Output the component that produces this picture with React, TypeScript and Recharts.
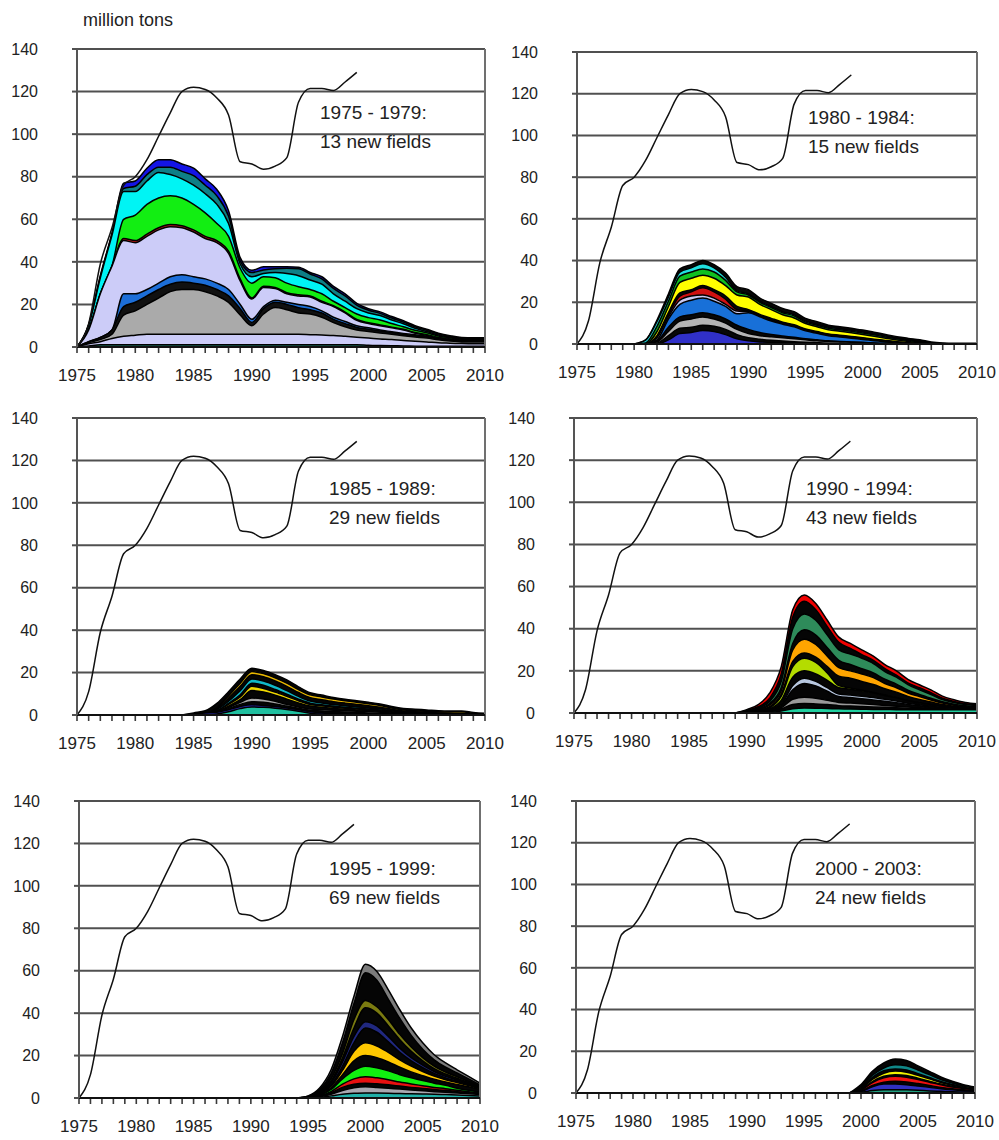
import React from "react";
import {
  ComposedChart, Area, Line, XAxis, YAxis, CartesianGrid, ReferenceLine,
} from "recharts";

const FONT = "'Liberation Sans', Arial, sans-serif";

const years = [
  1975, 1976, 1977, 1978, 1979, 1980, 1981, 1982, 1983, 1984, 1985, 1986,
  1987, 1988, 1989, 1990, 1991, 1992, 1993, 1994, 1995, 1996, 1997, 1998,
  1999, 2000, 2001, 2002, 2003, 2004, 2005, 2006, 2007, 2008, 2009, 2010,
];
const xTicks = [1975, 1980, 1985, 1990, 1995, 2000, 2005, 2010];
const yTicks = [0, 20, 40, 60, 80, 100, 120, 140];

// total production 1975-1999
const totalProduction = [
  0, 11, 39, 56, 76, 80, 88, 99, 110, 120, 122, 121, 117, 109, 87, 86, 83.5,
  85, 89, 115, 121.5, 121.5, 120.5, 124.5, 129,
];

type Layer = { key: string; color: string; start: number; values: number[] };

// 1975 - 1979 fields (cumulative envelopes, outer to inner)
const p1Navy = [0, 10.5, 33.5, 53.5, 77, 78, 84, 88, 88, 86, 84, 79, 74, 64, 42, 36, 37.7, 37.7, 37.7, 37.5, 35, 33, 28.5, 25, 20.5, 18, 16.5, 14.3, 12.3, 10, 8.3, 6.5, 5.3, 4.5, 4.4, 4.4];
const p1Teal = [0, 10.2, 33, 53, 74.5, 75.5, 81, 84.5, 84.5, 82.5, 80.5, 76, 71, 61.5, 40.5, 35, 36.2, 36.8, 37, 36.8, 34.3, 32, 27.5, 24, 19.7, 17.3, 15.8, 13.6, 11.7, 9.5, 7.9, 6.1, 5, 4.2, 4.1, 4.1];
const p1Cyan = [0, 10, 32.5, 52.5, 73, 73, 78, 82, 81, 79, 76, 72, 67, 58, 39, 33, 34.5, 35, 34.5, 33.5, 31.5, 29.5, 25, 21.5, 18, 16, 14.8, 12.7, 10.9, 8.8, 7.3, 5.6, 4.6, 3.9, 3.8, 3.8];
const p1Green = [0, 8, 25, 38, 60, 62, 67, 70, 71, 70, 67, 63, 58, 52, 37, 30, 33, 32.5, 30, 28.3, 27, 25, 21.5, 18.5, 15.5, 13.8, 12.7, 11, 9.5, 7.9, 6.7, 5.2, 4.3, 3.6, 3.5, 3.5];
const p1Red = [0, 8, 25, 38, 51, 50, 53, 56, 57.5, 57, 55, 52, 50, 45, 32, 23, 28.5, 28, 25.5, 24.5, 24, 21.5, 19.4, 16.4, 12.9, 11.4, 10.4, 9.3, 8.3, 6.8, 5.8, 4.5, 3.8, 3.2, 3.1, 3.1];
const p1Lavender = [0, 8, 25, 38, 50, 49, 52, 55, 56.5, 56, 54, 51, 49, 44, 31, 22.5, 28, 27.5, 25, 24, 23.5, 21, 19, 16, 12.5, 11, 10, 9, 8, 6.5, 5.5, 4.3, 3.6, 3, 2.9, 2.9];
const p1Blue = [0, 2.5, 4.5, 8, 25, 25, 27, 30, 33, 34, 33, 32, 30, 27, 20, 13, 19, 22, 21, 20, 19, 17, 14, 12, 10, 9, 8, 7.2, 6.4, 5.7, 5, 4, 3.3, 2.8, 2.7, 2.7];
const p1Black = [0, 2.5, 4.5, 8, 19, 21, 24, 27, 29.5, 30.5, 30, 29, 27, 24, 18, 11.5, 18, 21, 20, 18.5, 17.5, 16, 13, 11, 9.2, 8.3, 7.5, 6.8, 6, 5.3, 4.8, 3.8, 3.1, 2.7, 2.6, 2.6];
const p1Gray = [0, 2, 3.5, 6, 15, 17, 20, 23, 26, 27, 27, 26, 24, 21, 15, 10, 15.5, 18.5, 17.5, 16, 15.5, 14, 11.5, 9.5, 8, 7.3, 6.6, 6, 5.3, 4.7, 4.2, 3.4, 2.8, 2.4, 2.3, 2.3];
const p1LowLavender = [0, 1.5, 2.5, 4, 5, 5.5, 6, 6, 6, 6, 6, 6, 6, 6, 6, 6, 6, 6, 6, 6, 5.8, 5.6, 5.4, 5, 4.6, 4.2, 3.8, 3.5, 3, 2.7, 2.4, 2, 1.8, 1.6, 1.5, 1.5];
const p1Base = [0, 0.5, 1, 1, 1, 1, 1, 1, 1, 1, 1, 1, 1, 1, 1, 1, 1, 1, 1, 1, 1, 1, 1, 1, 1, 0.8, 0.7, 0.6, 0.5, 0.4, 0.3, 0.3, 0.3, 0.3, 0.3, 0.3];

// 1980 - 1984 fields
const p2Black = [0, 2, 11.5, 24, 36, 38, 40, 38, 34, 27.5, 26, 22, 19.5, 17, 15.5, 12.3, 10.7, 9, 8.3, 7.5, 6.7, 5.6, 4.6, 3.5, 2.7, 2, 1, 0.5, 0.3, 0.3, 0.3];
const p2Cyan = [0, 1.8, 10.8, 22.5, 34.5, 36.5, 38.5, 36.5, 32, 25.5, 24, 20.5, 18, 15.5, 14, 11, 9.5, 8, 7.3, 6.6, 5.8, 4.8, 3.8, 2.8, 2, 1.3, 0.5, 0.2, 0];
const p2Green = [0, 0.5, 8.5, 20.5, 32.5, 34.5, 36, 34.5, 30.5, 25, 23.5, 20, 17.5, 15, 13.5, 10.5, 9, 7.5, 6.8, 6.1, 5.3, 4.4, 3.4, 2.5, 1.7, 1, 0.3, 0];
const p2Yellow = [0, 0, 6, 18, 29.5, 31.5, 33, 31.5, 28, 23.5, 22.5, 19, 16.5, 14, 12.5, 9.8, 8.3, 6.8, 6.1, 5.4, 4.6, 3.7, 2.8, 1.9, 1.2, 0.6, 0.2, 0];
const p2BlackMid = [0, 0, 4, 15, 24.5, 26, 28, 26, 23, 18, 16.5, 14.2, 12.3, 10.5, 9.2, 7.2, 6, 4.8, 4.2, 3.6, 3, 2.3, 1.7, 1.1, 0.6, 0.2, 0];
const p2Red = [0, 0, 3.5, 14, 23, 25, 27, 25, 21.5, 16.5, 15.8, 13.6, 11.7, 10, 8.7, 6.8, 5.6, 4.5, 3.9, 3.3, 2.7, 2, 1.4, 0.9, 0.4, 0];
const p2Lavender = [0, 0, 3, 13, 21, 23, 23.5, 22, 19, 15.8, 15.5, 13.3, 11.4, 9.8, 8.5, 6.6, 5.4, 4.3, 3.7, 3.1, 2.5, 1.9, 1.3, 0.8, 0.3, 0];
const p2Blue = [0, 0, 2, 12, 19, 21, 22, 20.5, 18, 14.5, 15, 13, 11, 9.5, 8.2, 6.3, 5.1, 4, 3.4, 2.8, 2.2, 1.6, 1, 0.5, 0.2, 0];
const p2BlackLow = [0, 0, 1.5, 8, 13, 14, 15, 14, 12, 9, 7, 5.5, 4.5, 3.8, 3.2, 2.5, 2, 1.5, 1.2, 1, 0.8, 0.5, 0.3, 0];
const p2Gray = [0, 0, 1, 6, 11, 12, 13, 12, 10, 7, 5, 4, 3.5, 3, 2.5, 2, 1.5, 1.2, 1, 0.8, 0.6, 0.4, 0.2, 0];
const p2BlackBase = [0, 0, 0.5, 4, 7.5, 8, 9, 8.5, 7, 4.5, 3, 2.3, 1.8, 1.4, 1.1, 0.8, 0.6, 0.4, 0.3, 0.2, 0.1, 0];
const p2Purple = [0, 0, 0, 2, 5, 5.5, 6.5, 6, 4.5, 2.5, 1.5, 1, 0.8, 0.6, 0.4, 0.3, 0.2, 0];

// 1985 - 1989 fields
const p3Black = [0, 1, 2, 5.5, 11, 17, 22, 21, 19, 16.5, 13.3, 10.5, 9.4, 8.3, 7.4, 6.7, 6, 5.2, 4, 3.1, 2.7, 2.4, 2, 1.9, 1.9, 1.2, 0.8];
const p3Gold = [0, 0, 0.5, 3.5, 9, 15, 20.5, 19.5, 17.5, 15, 12, 9.5, 8.5, 7.5, 6.7, 6, 5.3, 4.5, 3.3, 2.4, 2, 1.7, 1.4, 1.5, 1.5, 0.8, 0.3];
const p3BlackA = [0, 0, 0.3, 3, 8, 13.5, 19, 18, 16, 13.5, 10.6, 8.2, 7.2, 6.3, 5.6, 5, 4.4, 3.7, 2.7, 1.9, 1.6, 1.3, 1, 0.9, 0.8, 0.5, 0.2];
const p3Cyan = [0, 0, 0.2, 2.5, 6.5, 11.5, 17, 16, 14, 11.5, 8.8, 6.6, 5.7, 4.9, 4.3, 3.8, 3.3, 2.8, 2, 1.4, 1.1, 0.9, 0.7, 0.6, 0.5, 0.3, 0];
const p3BlackB = [0, 0, 0.1, 2, 5.5, 9.5, 15, 14, 12, 9.8, 7.5, 5.6, 4.8, 4.2, 3.6, 3.2, 2.8, 2.3, 1.7, 1.2, 0.9, 0.7, 0.5, 0.4, 0.3, 0.2, 0];
const p3Yellow = [0, 0, 0, 1.8, 5, 8.5, 13.5, 12.5, 10.8, 8.8, 6.7, 5, 4.3, 3.7, 3.2, 2.8, 2.4, 2, 1.5, 1, 0.8, 0.6, 0.4, 0.3, 0.2, 0.1, 0];
const p3BlackC = [0, 0, 0, 1.5, 4.2, 7.2, 11.5, 10.8, 9.3, 7.5, 5.7, 4.2, 3.6, 3.1, 2.7, 2.4, 2.1, 1.7, 1.3, 0.9, 0.7, 0.5, 0.3, 0.2, 0.1, 0];
const p3Gray = [0, 0, 0, 1, 3.5, 6, 8, 7.5, 6.5, 5, 3.8, 2.8, 2.5, 2.2, 2, 1.8, 1.6, 1.3, 1, 0.7, 0.5, 0.4, 0.3, 0.2, 0.2, 0.1, 0];
const p3BlackD = [0, 0, 0, 1, 3, 5, 6.3, 6, 5.2, 4.2, 3.2, 2.2, 1.9, 1.6, 1.4, 1.2, 1, 0.8, 0.6, 0.4, 0.3, 0.2, 0.1, 0];
const p3Navy = [0, 0.5, 1, 1.3, 2.5, 4, 4.8, 4.5, 4, 3.3, 2.5, 1.5, 1, 0.8, 0.6, 0.5, 0.4, 0.3, 0.2, 0.1, 0];
const p3Teal = [0, 0, 0, 0.5, 1.5, 3, 3.8, 3.6, 3.2, 2.6, 1.8, 0.8, 0.4, 0.2, 0];

// 1990 - 1994 fields
const p4Red = [0, 1.6, 4, 9.5, 22, 49, 56, 52, 44, 36, 33, 30, 27, 23, 20, 16, 13.4, 11, 8, 6.3, 5, 4.4];
const p4BlackA = [0, 1.2, 3, 7, 18.5, 45.5, 53, 49, 41, 33.5, 30.7, 27.7, 25, 21, 18, 14.3, 12, 9.6, 7, 5.5, 4.4, 3.9];
const p4SeaGreen = [0, 0.8, 2.4, 5.5, 15, 40, 47, 44, 37, 30, 28, 26, 23.5, 19.7, 17, 13.5, 11, 8.8, 6.4, 5, 4, 3.5];
const p4BlackB = [0, 0.6, 2, 4.5, 12, 33, 39.5, 37, 31, 25, 23, 21, 19, 16, 13.7, 10.8, 8.8, 7, 5.3, 4.2, 3.4, 3];
const p4Orange = [0, 0.4, 1.5, 3.8, 10.5, 30, 35, 32.5, 27, 21.5, 20, 18.5, 16.8, 14, 12, 9.5, 7.8, 6.2, 4.7, 3.7, 3, 2.7];
const p4BlackC = [0, 0.3, 1.2, 3, 9, 24.5, 28.5, 26.5, 22, 17.5, 16.5, 15, 13.5, 11.5, 9.9, 7.9, 6.4, 5.2, 4, 3.2, 2.6, 2.3];
const p4YellowGreen = [0, 0.2, 1, 2.5, 8, 22, 26, 24, 19, 13, 11.8, 10.8, 9.7, 8.5, 7.3, 5.9, 4.9, 4, 3.2, 2.6, 2.2, 1.9];
const p4BlackD = [0, 0.1, 0.8, 2, 6, 17, 20, 18.5, 15.5, 12, 11.3, 10.5, 9.5, 8.3, 7.2, 5.8, 4.8, 3.9, 3.2, 2.6, 2.2, 1.9];
const p4Steel = [0, 0, 0.5, 1.5, 4, 13, 16.5, 15, 12, 9, 8.5, 8, 7.3, 6.5, 5.7, 4.6, 3.9, 3.2, 2.7, 2.3, 2, 1.8];
const p4BlackE = [0, 0, 0.4, 1.2, 3.5, 11, 14, 12.8, 10.3, 7.8, 7.3, 6.8, 6.2, 5.6, 4.9, 4, 3.4, 2.9, 2.5, 2.2, 1.9, 1.7];
const p4Gray = [0, 0, 0.3, 1, 2.5, 6.5, 7.5, 7, 6, 5, 4.7, 4.4, 4, 3.6, 3.2, 2.8, 2.5, 2.2, 2, 1.9, 1.8, 1.7];
const p4BlackF = [0, 0, 0.2, 0.7, 2, 4, 4.5, 4.3, 4, 3.5, 3.3, 3.1, 2.9, 2.7, 2.5, 2.3, 2.1, 2, 1.9, 1.8, 1.8, 1.7];
const p4Turquoise = [0, 0, 0, 0.3, 1, 2, 2.4, 2.3, 2.1, 2, 1.9, 1.8, 1.7, 1.7, 1.6, 1.6, 1.5, 1.5, 1.5, 1.5, 1.5, 1.5];

// 1995 - 1999 fields
const p5Gray = [0, 1, 4.7, 13.3, 29, 48, 63, 59.6, 51, 41.6, 33, 26, 20.4, 16.5, 13.3, 10.2, 7];
const p5BlackA = [0, 0.8, 4, 11.5, 26, 44.5, 59, 55.5, 46.5, 37.5, 29.5, 23, 18, 14.5, 11.8, 9, 6.2];
const p5Olive = [0, 0.5, 3, 9, 21, 37, 46, 43, 37, 30, 24, 19, 15, 12.2, 10, 7.8, 5.5];
const p5BlackB = [0, 0.4, 2.6, 8, 19, 33, 42.5, 40, 34, 27.5, 22, 17.5, 13.8, 11.3, 9.3, 7.3, 5.2];
const p5Navy = [0, 0.3, 2.2, 7, 17, 29, 36, 34, 29, 23.5, 19, 15.5, 12.5, 10.2, 8.5, 6.8, 4.9];
const p5BlackC = [0, 0.3, 2, 6.2, 15, 26, 33, 31, 26.5, 21.5, 17.5, 14.3, 11.6, 9.5, 8, 6.4, 4.6];
const p5Gold = [0, 0.2, 1.7, 5.5, 13, 22, 26, 24.5, 21.5, 18, 15, 12.5, 10.3, 8.6, 7.3, 5.9, 4.3];
const p5BlackD = [0, 0.15, 1.4, 4.8, 11, 17.5, 20, 19, 17, 14.5, 12.3, 10.5, 8.8, 7.5, 6.4, 5.3, 3.9];
const p5Lime = [0, 0.1, 1.2, 4, 9, 13, 15, 14.2, 12.8, 11, 9.5, 8.2, 7, 6, 4.6, 3.6, 2.8];
const p5Red = [0, 0.1, 1, 3, 6.5, 9, 10, 9.5, 8.6, 7.5, 6.6, 5.8, 5, 4.4, 3.6, 3, 2.4];
const p5BlackE = [0, 0.05, 0.8, 2.5, 5, 6.5, 7, 6.7, 6.2, 5.6, 5, 4.5, 4, 3.6, 3, 2.5, 2];
const p5Silver = [0, 0, 0.6, 1.8, 3.5, 4.8, 5.3, 5, 4.6, 4.2, 3.8, 3.4, 3, 2.7, 2.3, 2, 1.7];
const p5Teal = [0, 0, 0.3, 1, 1.8, 2.2, 2.4, 2.3, 2.2, 2.1, 2, 1.9, 1.8, 1.6, 1.4, 1.2, 1];

// 2000 - 2003 fields
const p6Black = [0, 4, 10.4, 14.4, 16.3, 15.6, 13, 10.4, 7.7, 5.6, 4, 2.9];
const p6Teal = [0, 3, 8.5, 12, 13.5, 13, 11, 8.8, 6.5, 4.8, 3.3, 2.4];
const p6BlackA = [0, 2.5, 7.5, 10.7, 11.5, 11, 9.3, 7.4, 5.5, 4.1, 2.9, 2.1];
const p6Yellow = [0, 2, 6.5, 9.5, 10.5, 10, 8.5, 6.8, 5, 3.7, 2.7, 1.9];
const p6BlackB = [0, 1.6, 5.5, 8, 8.8, 8.4, 7.1, 5.7, 4.3, 3.2, 2.4, 1.7];
const p6Red = [0, 1.3, 5, 7.3, 8, 7.6, 6.5, 5.2, 3.9, 2.9, 2.2, 1.6];
const p6BlackC = [0, 0.9, 3.6, 5.2, 5.6, 5.3, 4.5, 3.6, 2.7, 2, 1.5, 1.1];
const p6Blue = [0, 0.7, 3, 4.3, 4.3, 4, 3.4, 2.7, 2, 1.5, 1.1, 0.8];
const p6Green = [0, 0.3, 1.2, 1.6, 1.6, 1.5, 1.3, 1, 0.8, 0.6, 0.5, 0.4];

const panel1: Layer[] = [
  { key: "navy", color: "#1414e6", start: 1975, values: p1Navy },
  { key: "teal", color: "#0e7f86", start: 1975, values: p1Teal },
  { key: "cyan", color: "#00f4f4", start: 1975, values: p1Cyan },
  { key: "green", color: "#12ee12", start: 1975, values: p1Green },
  { key: "red", color: "#c41818", start: 1975, values: p1Red },
  { key: "lav", color: "#ccccf8", start: 1975, values: p1Lavender },
  { key: "blue", color: "#1c6ed8", start: 1975, values: p1Blue },
  { key: "black", color: "#111111", start: 1975, values: p1Black },
  { key: "gray", color: "#aaaaaa", start: 1975, values: p1Gray },
  { key: "lav2", color: "#ccccf8", start: 1975, values: p1LowLavender },
  { key: "base", color: "#1a7f6a", start: 1975, values: p1Base },
];

const panel2: Layer[] = [
  { key: "black", color: "#080808", start: 1980, values: p2Black },
  { key: "cyan", color: "#20e0e0", start: 1980, values: p2Cyan },
  { key: "green", color: "#10c020", start: 1980, values: p2Green },
  { key: "yellow", color: "#ffff00", start: 1980, values: p2Yellow },
  { key: "blackMid", color: "#080808", start: 1980, values: p2BlackMid },
  { key: "red", color: "#d01010", start: 1980, values: p2Red },
  { key: "lav", color: "#c8c8f0", start: 1980, values: p2Lavender },
  { key: "blue", color: "#1870d8", start: 1980, values: p2Blue },
  { key: "blackLow", color: "#080808", start: 1980, values: p2BlackLow },
  { key: "gray", color: "#b4b4b4", start: 1980, values: p2Gray },
  { key: "blackBase", color: "#080808", start: 1980, values: p2BlackBase },
  { key: "purple", color: "#3030c8", start: 1980, values: p2Purple },
];

const panel3: Layer[] = [
  { key: "black", color: "#050505", start: 1984, values: p3Black },
  { key: "gold", color: "#e8b800", start: 1984, values: p3Gold },
  { key: "blackA", color: "#050505", start: 1984, values: p3BlackA },
  { key: "cyan", color: "#10b8c8", start: 1984, values: p3Cyan },
  { key: "blackB", color: "#050505", start: 1984, values: p3BlackB },
  { key: "yellow", color: "#f0d800", start: 1984, values: p3Yellow },
  { key: "blackC", color: "#050505", start: 1984, values: p3BlackC },
  { key: "gray", color: "#a8a8a8", start: 1984, values: p3Gray },
  { key: "blackD", color: "#050505", start: 1984, values: p3BlackD },
  { key: "navy", color: "#2828b0", start: 1984, values: p3Navy },
  { key: "teal", color: "#20c0a0", start: 1984, values: p3Teal },
];

const panel4: Layer[] = [
  { key: "red", color: "#f00000", start: 1989, values: p4Red },
  { key: "blackA", color: "#050505", start: 1989, values: p4BlackA },
  { key: "sea", color: "#2e8b5a", start: 1989, values: p4SeaGreen },
  { key: "blackB", color: "#050505", start: 1989, values: p4BlackB },
  { key: "orange", color: "#ffa500", start: 1989, values: p4Orange },
  { key: "blackC", color: "#050505", start: 1989, values: p4BlackC },
  { key: "yg", color: "#b4dc00", start: 1989, values: p4YellowGreen },
  { key: "blackD", color: "#050505", start: 1989, values: p4BlackD },
  { key: "steel", color: "#b8c8e0", start: 1989, values: p4Steel },
  { key: "blackE", color: "#050505", start: 1989, values: p4BlackE },
  { key: "gray", color: "#9a9a9a", start: 1989, values: p4Gray },
  { key: "blackF", color: "#050505", start: 1989, values: p4BlackF },
  { key: "turq", color: "#20d0a0", start: 1989, values: p4Turquoise },
];

const panel5: Layer[] = [
  { key: "gray", color: "#7c7c7c", start: 1994, values: p5Gray },
  { key: "blackA", color: "#050505", start: 1994, values: p5BlackA },
  { key: "olive", color: "#7a7a10", start: 1994, values: p5Olive },
  { key: "blackB", color: "#050505", start: 1994, values: p5BlackB },
  { key: "navy", color: "#202880", start: 1994, values: p5Navy },
  { key: "blackC", color: "#050505", start: 1994, values: p5BlackC },
  { key: "gold", color: "#ffc800", start: 1994, values: p5Gold },
  { key: "blackD", color: "#050505", start: 1994, values: p5BlackD },
  { key: "lime", color: "#10f010", start: 1994, values: p5Lime },
  { key: "red", color: "#e81010", start: 1994, values: p5Red },
  { key: "blackE", color: "#050505", start: 1994, values: p5BlackE },
  { key: "silver", color: "#a8a8b0", start: 1994, values: p5Silver },
  { key: "teal", color: "#20b0a8", start: 1994, values: p5Teal },
];

const panel6: Layer[] = [
  { key: "black", color: "#050505", start: 1999, values: p6Black },
  { key: "teal", color: "#108888", start: 1999, values: p6Teal },
  { key: "blackA", color: "#050505", start: 1999, values: p6BlackA },
  { key: "yellow", color: "#f0f000", start: 1999, values: p6Yellow },
  { key: "blackB", color: "#050505", start: 1999, values: p6BlackB },
  { key: "red", color: "#f01010", start: 1999, values: p6Red },
  { key: "blackC", color: "#050505", start: 1999, values: p6BlackC },
  { key: "blue", color: "#3030c0", start: 1999, values: p6Blue },
  { key: "green", color: "#20a080", start: 1999, values: p6Green },
];

function buildRows(layers: Layer[]) {
  return years.map((year, i) => {
    const row: Record<string, number | null> = {
      year,
      total: i < totalProduction.length ? totalProduction[i] : null,
    };
    layers.forEach((l) => {
      const k = year - l.start;
      row[l.key] = k >= 0 && k < l.values.length ? l.values[k] : null;
    });
    return row;
  });
}

type Frame = { left: number; right: number; top: number; bottom: number };

const Y_W = 70;
const M_TOP = 10;
const M_RIGHT = 24;
const X_H = 45;

function Panel({ frame, layers }: { frame: Frame; layers: Layer[] }) {
  const rows = buildRows(layers);
  const plotW = frame.right - frame.left;
  const plotH = frame.bottom - frame.top;
  const axisY = M_TOP + plotH;
  // 6 px below the axis, expressed in data units
  const tickDepth = (6 / plotH) * 140;

  const renderXTick = (props: any) => {
    const { x, payload } = props;
    const v = payload.value as number;
    if (!xTicks.includes(v)) return <g />;
    return (
      <text x={x} y={axisY + 22} dy="0.71em" textAnchor="middle" fontSize={17} fill="#222" fontFamily={FONT}>
        {v}
      </text>
    );
  };

  return (
    <div style={{ position: "absolute", left: frame.left - Y_W, top: frame.top - M_TOP }}>
      <ComposedChart
        width={Y_W + plotW + M_RIGHT}
        height={M_TOP + plotH + X_H}
        data={rows}
        margin={{ top: M_TOP, right: M_RIGHT, bottom: 0, left: 0 }}
      >
        <CartesianGrid vertical={false} stroke="#505050" strokeWidth={2} />
        <XAxis
          dataKey="year"
          type="number"
          domain={[1975, 2010]}
          ticks={xTicks}
          interval={0}
          height={X_H}
          tickLine={false}
          axisLine={{ stroke: "#111", strokeWidth: 2 }}
          tick={renderXTick}
        />
        <YAxis
          domain={[0, 140]}
          ticks={yTicks}
          width={Y_W}
          tickSize={5}
          tickMargin={34}
          axisLine={{ stroke: "#555", strokeWidth: 2 }}
          tickLine={{ stroke: "#505050", strokeWidth: 2 }}
          tick={{ fontSize: 16, fill: "#222", fontFamily: FONT }}
        />
        <ReferenceLine x={2010} stroke="#707070" strokeWidth={2} />
        {years.map((yr) => (
          <ReferenceLine
            key={`t${yr}`}
            segment={[{ x: yr, y: 0 }, { x: yr, y: -tickDepth }]}
            stroke="#3a3a3a"
            strokeWidth={1.6}
            ifOverflow="visible"
          />
        ))}
        {layers.map((l) => (
          <Area
            key={l.key}
            dataKey={l.key}
            type="monotone"
            fill={l.color}
            fillOpacity={1}
            stroke="#000"
            strokeWidth={1.5}
            dot={false}
            activeDot={false}
            isAnimationActive={false}
          />
        ))}
        <Line
          dataKey="total"
          type="monotone"
          stroke="#111"
          strokeWidth={1.5}
          dot={false}
          activeDot={false}
          isAnimationActive={false}
        />
      </ComposedChart>
    </div>
  );
}

function Note({ x, y, lines }: { x: number; y: number; lines: string[] }) {
  return (
    <div
      style={{
        position: "absolute",
        left: x,
        top: y - 14.5,
        fontFamily: FONT,
        fontSize: 19,
        lineHeight: "29px",
        color: "#222",
        whiteSpace: "nowrap",
      }}
    >
      {lines.map((t) => (
        <div key={t}>{t}</div>
      ))}
    </div>
  );
}

export default function App() {
  return (
    <div style={{ position: "absolute", left: 0, top: 0, width: 999, height: 1140, background: "#fff", overflow: "hidden" }}>
      <div style={{ position: "absolute", left: 83, top: 10, fontFamily: FONT, fontSize: 18, lineHeight: "20px", color: "#222" }}>
        million tons
      </div>
      <Panel frame={{ left: 77, right: 485, top: 49, bottom: 347 }} layers={panel1} />
      <Panel frame={{ left: 577, right: 977, top: 52, bottom: 344 }} layers={panel2} />
      <Panel frame={{ left: 77, right: 485, top: 418, bottom: 715 }} layers={panel3} />
      <Panel frame={{ left: 574, right: 977, top: 418, bottom: 713 }} layers={panel4} />
      <Panel frame={{ left: 79, right: 480, top: 801, bottom: 1098 }} layers={panel5} />
      <Panel frame={{ left: 576, right: 975, top: 801, bottom: 1093 }} layers={panel6} />
      <Note x={320} y={112} lines={["1975 - 1979:", "13 new fields"]} />
      <Note x={808} y={117} lines={["1980 - 1984:", "15 new fields"]} />
      <Note x={329} y={488} lines={["1985 - 1989:", "29 new fields"]} />
      <Note x={806} y={488} lines={["1990 - 1994:", "43 new fields"]} />
      <Note x={329} y={868} lines={["1995 - 1999:", "69 new fields"]} />
      <Note x={815} y={868} lines={["2000 - 2003:", "24 new fields"]} />
    </div>
  );
}
